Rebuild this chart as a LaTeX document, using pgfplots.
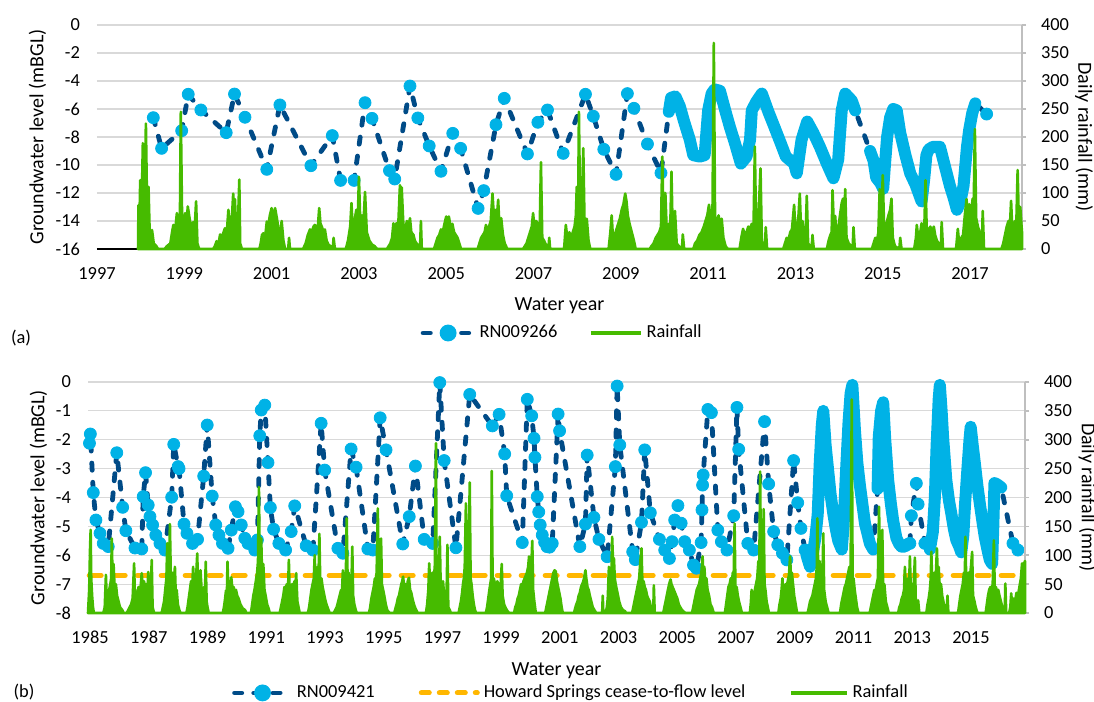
\documentclass[border=0pt]{standalone}
\usepackage{fontspec}
\setmainfont{Carlito}
\usepackage{pgfplots}
\usepackage{pgfplotstable}
\pgfplotsset{compat=1.18}
\definecolor{gwdark}{RGB}{0,75,135}
\definecolor{gwlight}{RGB}{0,178,230}
\definecolor{rain}{RGB}{70,187,0}
\definecolor{ctf}{RGB}{255,183,0}
\definecolor{gridc}{RGB}{217,217,217}
\definecolor{raxis}{RGB}{191,191,191}
\newcommand{\fs}{\fontsize{9.2}{11}\selectfont}

% ---------- Panel (a) groundwater RN009266 ----------
\pgfplotstableread{
x y
1998.29 -6.62
1998.48 -8.81
1998.94 -7.55
1999.09 -4.95
1999.38 -6.07
1999.96 -7.69
2000.15 -4.93
2000.39 -6.59
2000.89 -10.31
2001.19 -5.71
2001.90 -10.05
2002.39 -7.90
2002.58 -11.10
2002.89 -11.10
2003.14 -5.55
2003.30 -6.67
2003.70 -10.40
2003.82 -11.00
2004.17 -4.36
2004.35 -6.64
2004.61 -8.64
2004.88 -10.45
2005.15 -7.74
2005.33 -8.81
2005.73 -13.10
2005.86 -11.83
2006.14 -7.12
2006.33 -5.24
2006.86 -9.21
2007.10 -6.95
2007.32 -6.07
2007.68 -9.17
2008.19 -4.95
2008.37 -6.52
2008.61 -8.88
2008.89 -10.67
2009.15 -4.90
2009.30 -5.95
2009.61 -8.50
2009.92 -10.57
2017.38 -6.36
}\gwAmk

\pgfplotstableread{
x y
2010.10 -6.2
2010.15 -5.2
2010.25 -5.1
2010.35 -5.8
2010.45 -6.9
2010.58 -8.2
2010.66 -9.3
2010.81 -9.4
2010.92 -9.3
2011.00 -6.1
2011.08 -4.9
2011.15 -4.6
2011.27 -4.7
2011.40 -6.2
2011.50 -7.3
2011.62 -8.5
2011.75 -9.9
2011.88 -9.4
2011.96 -8.2
2012.00 -6.1
2012.10 -5.5
2012.23 -4.9
2012.38 -6.2
2012.52 -7.3
2012.67 -8.5
2012.78 -9.4
2012.97 -9.9
2013.03 -10.6
2013.14 -8.2
2013.27 -6.9
2013.41 -7.7
2013.56 -8.7
2013.72 -9.9
2013.87 -10.95
2013.98 -9.6
2014.06 -6.1
2014.14 -4.9
2014.29 -5.4
2014.37 -6.1
}\gwAbandone

\pgfplotstableread{
x y
2014.71 -9.0
2014.79 -9.7
2014.85 -10.9
2014.95 -11.3
2015.01 -11.7
2015.05 -10.0
2015.10 -8.0
2015.17 -6.6
2015.24 -6.0
2015.32 -6.1
2015.40 -7.7
2015.52 -9.3
2015.63 -10.6
2015.75 -11.4
2015.89 -12.6
2015.95 -11.0
2016.00 -9.3
2016.05 -8.9
2016.15 -8.7
2016.31 -8.7
2016.40 -9.8
2016.54 -11.5
2016.62 -12.3
2016.70 -13.2
2016.78 -12.6
2016.85 -11.5
2016.93 -8.7
2016.98 -7.5
2017.05 -6.3
2017.12 -5.6
}\gwAbandtwo

% ---------- Panel (b) groundwater RN009421 ----------
\pgfplotstableread{
x y
1984.98 -2.12
1985.01 -1.80
1985.11 -3.83
1985.20 -4.78
1985.34 -5.24
1985.45 -5.59
1985.62 -5.70
1985.91 -2.45
1986.11 -4.34
1986.22 -5.15
1986.53 -5.75
1986.76 -5.78
1986.81 -3.97
1986.89 -3.14
1986.98 -4.26
1987.04 -4.66
1987.13 -4.95
1987.24 -5.30
1987.38 -5.59
1987.55 -5.82
1987.78 -3.99
1987.85 -2.16
1988.00 -2.93
1988.03 -3.00
1988.20 -4.92
1988.30 -5.24
1988.49 -5.59
1988.66 -5.45
1988.87 -3.26
1988.99 -1.49
1989.16 -3.95
1989.28 -4.95
1989.39 -5.30
1989.51 -5.59
1989.70 -5.76
1989.81 -5.13
1989.95 -4.32
1990.04 -4.49
1990.15 -4.95
1990.27 -5.41
1990.38 -5.59
1990.61 -5.82
1990.70 -5.47
1990.78 -1.86
1990.83 -0.97
1990.95 -0.80
1991.06 -2.79
1991.14 -4.35
1991.25 -5.10
1991.43 -5.59
1991.66 -5.82
1991.85 -5.18
1991.97 -4.29
1992.36 -5.67
1992.59 -5.82
1992.87 -1.43
1992.99 -3.05
1993.44 -5.76
1993.61 -5.93
1993.89 -2.32
1994.06 -2.95
1994.46 -5.78
1994.63 -5.82
1994.88 -1.24
1995.08 -2.35
1995.65 -5.61
1995.87 -4.66
1996.08 -2.91
1996.38 -5.45
1996.67 -5.59
1996.91 -0.02
1997.06 -2.72
1997.46 -5.74
1997.93 -0.43
1998.70 -1.52
1998.93 -1.12
1999.12 -2.49
1999.19 -3.94
1999.72 -5.56
1999.89 -0.60
2000.04 -1.17
2000.12 -1.95
2000.15 -2.61
2000.23 -3.97
2000.28 -4.50
2000.33 -4.95
2000.40 -5.30
2000.48 -5.55
2000.56 -5.70
2000.65 -5.72
2000.74 -5.59
2000.94 -1.11
2000.99 -1.69
2001.68 -5.70
2001.87 -4.92
2001.93 -2.53
2002.16 -4.69
2002.33 -5.45
2002.61 -6.05
2002.89 -2.93
2002.95 -0.14
2003.04 -2.18
2003.48 -5.88
2003.57 -6.15
2003.78 -4.86
2003.89 -2.35
2004.08 -4.53
2004.39 -5.45
2004.57 -5.82
2004.73 -6.11
2004.82 -5.53
2004.91 -4.78
2005.02 -4.28
2005.13 -4.89
2005.25 -5.53
2005.41 -5.82
2005.55 -6.34
2005.65 -6.45
2005.81 -5.56
2005.84 -4.43
2005.86 -3.57
2005.88 -3.22
2006.04 -0.95
2006.16 -1.06
2006.38 -5.13
2006.50 -5.53
2006.69 -5.82
2006.92 -4.63
2007.03 -0.88
2007.09 -2.33
2007.40 -5.59
2007.60 -5.82
2007.97 -1.37
2008.11 -3.53
2008.28 -5.18
2008.42 -5.64
2008.58 -5.93
2008.73 -6.16
2008.96 -2.72
2009.10 -4.18
2009.21 -5.07
2009.35 -5.82
}\gwBsparse

\pgfplotstableread{
x y
2009.40 -6.0
2009.52 -6.4
2009.62 -5.9
2009.70 -5.4
2009.78 -4.6
2009.85 -2.8
2009.92 -1.5
2009.97 -1.0
2010.05 -2.2
2010.14 -3.1
2010.22 -3.9
2010.31 -4.55
2010.40 -5.1
2010.48 -5.5
2010.60 -5.8
2010.66 -5.0
2010.74 -3.2
2010.83 -1.4
2010.90 -0.4
2010.96 -0.1
2011.05 -1.7
2011.13 -2.8
2011.22 -3.6
2011.39 -4.9
2011.56 -5.6
2011.67 -5.8
}\gwBbandone

\pgfplotstableread{
x y
2011.82 -3.7
2011.86 -1.9
2011.94 -1.0
2012.01 -0.7
2012.08 -2.0
2012.18 -3.4
2012.27 -4.2
2012.35 -4.8
2012.46 -5.4
2012.55 -5.6
2012.63 -5.7
2012.75 -5.7
2012.86 -5.6
}\gwBbandtwo

\pgfplotstableread{
x y
2012.92 -5.59
2012.97 -4.63
2013.14 -3.51
2013.20 -4.23
2013.43 -5.59
}\gwBmid

\pgfplotstableread{
x y
2013.60 -5.8
2013.70 -5.2
2013.77 -4.0
2013.83 -2.2
2013.90 -0.6
2013.94 -0.1
2014.00 -1.0
2014.05 -1.9
2014.16 -3.4
2014.25 -4.1
2014.33 -4.55
2014.42 -5.1
2014.50 -5.47
2014.60 -5.7
2014.67 -5.9
2014.74 -5.3
2014.80 -4.2
2014.88 -3.0
2014.95 -2.0
2014.99 -1.55
2015.06 -2.2
2015.13 -2.8
2015.22 -3.6
2015.30 -4.2
2015.40 -4.9
2015.47 -5.36
2015.56 -5.8
2015.64 -6.16
2015.72 -6.3
2015.76 -5.0
2015.80 -3.5
2015.90 -3.55
2016.03 -3.65
}\gwBbandthree

\pgfplotstableread{
x y
2016.43 -5.59
2016.60 -5.82
}\gwBend

\pgfplotsset{
  gwline/.style={gwdark, line width=2.4pt, dash pattern=on 3.6pt off 6pt, line cap=round, line join=round, mark=none},
  gwmark/.style={only marks, mark=*, mark size=3pt, mark options={fill=gwlight, draw=gwlight, solid}},
  gwband/.style={gwlight, line width=6pt, line cap=round, line join=round, mark=none, solid},
  rainplot/.style={draw=rain, fill=rain, line width=1.3pt, line join=round, mark=none},
  basestyle/.style={
    scale only axis, clip=false,
    /pgf/number format/assume math mode=true,
    /pgf/number format/1000 sep={},
    tick label style={font=\fs},
    label style={font=\fs},
    legend style={font=\fs, draw=none, fill=none},
    axis line style={-},
  },
  gwstyle/.style={
    basestyle,
    axis x line*=bottom, axis y line*=left,
    x axis line style={black, line width=0.75pt},
    y axis line style={draw=none},
    major tick length=0pt,
    ymajorgrids, grid style={gridc, line width=0.6pt},
    yticklabel style={xshift=-5pt},
    xticklabel style={yshift=-5.5pt},
  },
  rainstyle/.style={
    basestyle,
    axis x line=none, axis y line*=right,
    y axis line style={raxis, line width=0.75pt},
    ytick style={raxis, line width=0.75pt},
    tick align=outside, major tick length=2pt,
    ymin=0, ymax=400, ytick={0,50,...,400},
    yticklabel style={xshift=4pt},
    ylabel={Daily rainfall (mm)},
  },
}

\begin{document}
\begin{tikzpicture}
\path[use as bounding box] (0,0) rectangle (547pt,351pt);

% ===================== Panel (a) =====================
\begin{axis}[gwstyle,
  at={(48.5pt,226.5pt)}, anchor=south west, width=462.5pt, height=112pt,
  xmin=1997, xmax=2018.19, ymin=-16, ymax=0,
  xtick={1997,1999,...,2017}, ytick={-16,-14,...,0},
  xlabel={Water year}, ylabel={Groundwater level (mBGL)},
  every axis x label/.style={at={(axis description cs:0.5,-0.255)}, anchor=center},
  every axis y label/.style={at={(axis description cs:-0.0643,0.5)}, rotate=90, anchor=center},
]
\addplot[gwline] table {
1998.29 -6.62
1998.48 -8.81
1998.94 -7.55
1999.09 -4.95
1999.38 -6.07
1999.96 -7.69
2000.15 -4.93
2000.39 -6.59
2000.89 -10.31
2001.19 -5.71
2001.90 -10.05
2002.39 -7.90
2002.58 -11.10
2002.89 -11.10
2003.14 -5.55
2003.30 -6.67
2003.70 -10.40
2003.82 -11.00
2004.17 -4.36
2004.35 -6.64
2004.61 -8.64
2004.88 -10.45
2005.15 -7.74
2005.33 -8.81
2005.73 -13.10
2005.86 -11.83
2006.14 -7.12
2006.33 -5.24
2006.86 -9.21
2007.10 -6.95
2007.32 -6.07
2007.68 -9.17
2008.19 -4.95
2008.37 -6.52
2008.61 -8.88
2008.89 -10.67
2009.15 -4.90
2009.30 -5.95
2009.61 -8.50
2009.92 -10.57
2010.10 -6.2
2010.15 -5.2
2010.25 -5.1
2010.35 -5.8
2010.45 -6.9
2010.58 -8.2
2010.66 -9.3
2010.81 -9.4
2010.92 -9.3
2011.00 -6.1
2011.08 -4.9
2011.15 -4.6
2011.27 -4.7
2011.40 -6.2
2011.50 -7.3
2011.62 -8.5
2011.75 -9.9
2011.88 -9.4
2011.96 -8.2
2012.00 -6.1
2012.10 -5.5
2012.23 -4.9
2012.38 -6.2
2012.52 -7.3
2012.67 -8.5
2012.78 -9.4
2012.97 -9.9
2013.03 -10.6
2013.14 -8.2
2013.27 -6.9
2013.41 -7.7
2013.56 -8.7
2013.72 -9.9
2013.87 -10.95
2013.98 -9.6
2014.06 -6.1
2014.14 -4.9
2014.29 -5.4
2014.37 -6.1
2014.71 -9.0
2014.79 -9.7
2014.85 -10.9
2014.95 -11.3
2015.01 -11.7
2015.05 -10.0
2015.10 -8.0
2015.17 -6.6
2015.24 -6.0
2015.32 -6.1
2015.40 -7.7
2015.52 -9.3
2015.63 -10.6
2015.75 -11.4
2015.89 -12.6
2015.95 -11.0
2016.00 -9.3
2016.05 -8.9
2016.15 -8.7
2016.31 -8.7
2016.40 -9.8
2016.54 -11.5
2016.62 -12.3
2016.70 -13.2
2016.78 -12.6
2016.85 -11.5
2016.93 -8.7
2016.98 -7.5
2017.05 -6.3
2017.12 -5.6
2017.38 -6.36
};
\addplot[gwband] table {\gwAbandone};
\addplot[gwband] table {\gwAbandtwo};
\addplot[gwmark] table {\gwAmk};
\end{axis}

\begin{axis}[rainstyle,
  at={(48.5pt,226.5pt)}, anchor=south west, width=462.5pt, height=112pt,
  xmin=1997, xmax=2018.19,
  every axis y label/.style={at={(axis description cs:1.067,0.5)}, rotate=-90, anchor=center},
  legend columns=2,
  legend style={at={(0.504,-0.375)}, anchor=center, /tikz/every even column/.append style={column sep=14pt}},
  legend image code/.code={\draw[mark repeat=2,mark phase=2,#1] plot coordinates {(0pt,0pt) (12.5pt,0pt) (25pt,0pt)};},
]
\addlegendimage{gwdark, line width=2.4pt, dash pattern=on 3.6pt off 6pt, line cap=round, mark=*, mark size=3pt, mark options={fill=gwlight, draw=gwlight, solid}}
\addlegendentry{RN009266}
\addlegendimage{rain, line width=1.6pt, mark=none}
\addlegendentry{Rainfall}
\addplot[rainplot, forget plot] coordinates {
(1997.94,0)(1997.95,78)(1997.97,40)(1997.99,123)(1998.02,60)(1998.05,189)(1998.08,30)(1998.12,224)(1998.15,60)(1998.18,111)(1998.21,20)(1998.26,34)(1998.30,10)(1998.36,5)(1998.40,0)
(1998.55,0)(1998.60,5)(1998.68,10)(1998.72,30)(1998.75,43)(1998.78,25)(1998.83,64)(1998.86,40)(1998.90,60)(1998.92,245)(1998.95,50)(1998.99,40)(1999.02,64)(1999.05,45)(1999.08,76)(1999.12,55)(1999.16,35)(1999.20,48)(1999.23,25)(1999.27,85)(1999.30,10)(1999.34,0)
(1999.66,0)(1999.70,5)(1999.74,14)(1999.78,8)(1999.82,26)(1999.86,20)(1999.90,30)(1999.93,37)(1999.97,25)(2000.01,70)(2000.04,45)(2000.08,40)(2000.12,99)(2000.14,60)(2000.16,89)(2000.19,30)(2000.22,20)(2000.26,124)(2000.28,10)(2000.32,0)
(2000.72,0)(2000.75,10)(2000.78,25)(2000.81,28)(2000.85,20)(2000.89,49)(2000.92,40)(2000.96,60)(2001.00,73)(2001.03,50)(2001.06,65)(2001.08,73)(2001.12,55)(2001.16,35)(2001.20,25)(2001.23,50)(2001.27,15)(2001.31,0)(2001.38,0)(2001.40,20)(2001.42,0)
(2001.72,0)(2001.78,10)(2001.83,25)(2001.88,35)(2001.92,30)(2001.96,40)(2001.99,43)(2002.03,35)(2002.06,40)(2002.09,73)(2002.12,45)(2002.15,40)(2002.19,30)(2002.22,35)(2002.26,15)(2002.30,8)(2002.35,5)(2002.40,0)(2002.42,20)(2002.45,0)
(2002.70,0)(2002.75,15)(2002.80,40)(2002.83,82)(2002.86,30)(2002.90,50)(2002.94,70)(2002.97,40)(2003.00,129)(2003.03,50)(2003.07,60)(2003.10,40)(2003.14,102)(2003.18,30)(2003.24,15)(2003.30,8)(2003.36,5)(2003.42,0)
(2003.64,0)(2003.68,5)(2003.72,10)(2003.76,20)(2003.79,46)(2003.82,30)(2003.86,46)(2003.90,40)(2003.94,114)(2003.96,60)(2003.98,110)(2004.02,40)(2004.06,35)(2004.10,50)(2004.14,40)(2004.17,55)(2004.20,30)(2004.25,25)(2004.28,15)(2004.32,10)(2004.38,5)(2004.40,0)(2004.42,50)(2004.44,0)
(2004.72,0)(2004.76,10)(2004.80,20)(2004.84,25)(2004.88,35)(2004.92,30)(2004.96,45)(2005.00,58)(2005.03,50)(2005.06,58)(2005.10,40)(2005.14,45)(2005.18,30)(2005.22,25)(2005.26,20)(2005.30,10)(2005.34,0)
(2005.72,0)(2005.76,10)(2005.80,20)(2005.84,25)(2005.88,30)(2005.91,43)(2005.94,30)(2005.98,40)(2006.02,50)(2006.06,99)(2006.09,60)(2006.12,70)(2006.16,55)(2006.19,88)(2006.22,40)(2006.26,55)(2006.30,25)(2006.34,10)(2006.40,0)
(2006.76,0)(2006.80,5)(2006.84,10)(2006.88,20)(2006.92,30)(2006.96,40)(2006.99,64)(2007.02,40)(2007.06,50)(2007.10,45)(2007.14,30)(2007.17,155)(2007.20,20)(2007.24,15)(2007.30,5)(2007.34,0)(2007.36,20)(2007.38,0)
(2007.70,0)(2007.74,43)(2007.78,15)(2007.82,30)(2007.86,20)(2007.90,30)(2007.94,40)(2007.97,60)(2007.99,111)(2008.02,60)(2008.04,245)(2008.07,50)(2008.10,60)(2008.14,180)(2008.17,40)(2008.22,54)(2008.26,15)(2008.30,0)
(2008.72,0)(2008.76,30)(2008.79,60)(2008.82,20)(2008.86,25)(2008.90,35)(2008.94,45)(2008.98,55)(2009.02,70)(2009.06,80)(2009.10,99)(2009.13,85)(2009.16,60)(2009.20,45)(2009.25,30)(2009.30,15)(2009.34,0)
(2009.66,0)(2009.70,5)(2009.75,10)(2009.80,20)(2009.84,25)(2009.88,30)(2009.92,40)(2009.95,165)(2009.98,40)(2010.02,100)(2010.05,35)(2010.09,45)(2010.13,30)(2010.16,138)(2010.19,20)(2010.24,68)(2010.28,10)(2010.33,5)(2010.40,0)(2010.42,26)(2010.45,0)
(2010.66,0)(2010.70,10)(2010.75,15)(2010.80,25)(2010.85,30)(2010.90,40)(2010.94,50)(2010.98,60)(2011.02,79)(2011.06,50)(2011.10,70)(2011.13,368)(2011.16,40)(2011.20,50)(2011.24,60)(2011.28,40)(2011.31,54)(2011.35,20)(2011.40,5)(2011.45,0)
(2011.72,0)(2011.76,20)(2011.80,36)(2011.84,25)(2011.88,30)(2011.92,40)(2011.96,35)(2012.00,45)(2012.04,40)(2012.07,183)(2012.10,30)(2012.14,35)(2012.17,90)(2012.20,144)(2012.23,15)(2012.27,5)(2012.30,0)(2012.32,39)(2012.35,0)
(2012.72,0)(2012.76,10)(2012.80,20)(2012.84,15)(2012.88,30)(2012.92,35)(2012.97,79)(2013.00,30)(2013.04,40)(2013.07,60)(2013.10,99)(2013.13,30)(2013.16,50)(2013.20,20)(2013.23,15)(2013.26,95)(2013.29,10)(2013.34,5)(2013.37,0)(2013.39,25)(2013.42,0)
(2013.72,0)(2013.76,15)(2013.80,25)(2013.83,30)(2013.85,105)(2013.88,40)(2013.91,59)(2013.94,25)(2013.98,35)(2014.02,60)(2014.06,82)(2014.09,90)(2014.12,50)(2014.14,107)(2014.17,20)(2014.22,10)(2014.28,5)(2014.31,0)(2014.33,39)(2014.36,0)
(2014.75,0)(2014.79,10)(2014.83,20)(2014.87,15)(2014.90,30)(2014.93,107)(2014.96,30)(2015.00,132)(2015.03,40)(2015.06,35)(2015.10,50)(2015.13,60)(2015.17,70)(2015.20,90)(2015.23,20)(2015.28,5)(2015.34,2)(2015.38,0)(2015.40,20)(2015.43,0)
(2015.72,0)(2015.76,20)(2015.78,43)(2015.82,15)(2015.86,30)(2015.89,46)(2015.92,20)(2015.95,30)(2015.98,123)(2016.01,25)(2016.05,35)(2016.09,40)(2016.13,30)(2016.17,40)(2016.20,25)(2016.24,15)(2016.28,10)(2016.32,5)(2016.33,0)(2016.35,48)(2016.38,0)
(2016.68,0)(2016.72,36)(2016.75,10)(2016.80,20)(2016.84,25)(2016.88,60)(2016.92,89)(2016.95,50)(2016.98,80)(2017.02,60)(2017.06,90)(2017.08,60)(2017.11,214)(2017.14,55)(2017.18,40)(2017.22,30)(2017.25,10)(2017.27,0)(2017.29,68)(2017.32,0)
(2017.72,0)(2017.76,10)(2017.80,25)(2017.84,40)(2017.88,50)(2017.91,35)(2017.94,86)(2017.97,30)(2018.00,40)(2018.03,50)(2018.06,45)(2018.09,141)(2018.12,40)(2018.15,75)(2018.18,40)(2018.19,30)
} \closedcycle;
\end{axis}

% ===================== Panel (b) =====================
\begin{axis}[gwstyle,
  at={(44pt,44.5pt)}, anchor=south west, width=468.5pt, height=115.5pt,
  xmin=1984.93, xmax=2016.84, ymin=-8, ymax=0,
  xtick={1985,1987,...,2015}, ytick={-8,-7,...,0},
  xlabel={Water year}, ylabel={Groundwater level (mBGL)},
  every axis x label/.style={at={(axis description cs:0.5,-0.25)}, anchor=center},
  every axis y label/.style={at={(axis description cs:-0.0528,0.5)}, rotate=90, anchor=center},
]
\addplot[ctf, line width=2.5pt, dash pattern=on 6pt off 6pt, line cap=round] coordinates {(1984.97,-6.7) (2016.84,-6.7)};
\addplot[gwline] table {
1984.98 -2.12
1985.01 -1.80
1985.11 -3.83
1985.20 -4.78
1985.34 -5.24
1985.45 -5.59
1985.62 -5.70
1985.91 -2.45
1986.11 -4.34
1986.22 -5.15
1986.53 -5.75
1986.76 -5.78
1986.81 -3.97
1986.89 -3.14
1986.98 -4.26
1987.04 -4.66
1987.13 -4.95
1987.24 -5.30
1987.38 -5.59
1987.55 -5.82
1987.78 -3.99
1987.85 -2.16
1988.00 -2.93
1988.03 -3.00
1988.20 -4.92
1988.30 -5.24
1988.49 -5.59
1988.66 -5.45
1988.87 -3.26
1988.99 -1.49
1989.16 -3.95
1989.28 -4.95
1989.39 -5.30
1989.51 -5.59
1989.70 -5.76
1989.81 -5.13
1989.95 -4.32
1990.04 -4.49
1990.15 -4.95
1990.27 -5.41
1990.38 -5.59
1990.61 -5.82
1990.70 -5.47
1990.78 -1.86
1990.83 -0.97
1990.95 -0.80
1991.06 -2.79
1991.14 -4.35
1991.25 -5.10
1991.43 -5.59
1991.66 -5.82
1991.85 -5.18
1991.97 -4.29
1992.36 -5.67
1992.59 -5.82
1992.87 -1.43
1992.99 -3.05
1993.44 -5.76
1993.61 -5.93
1993.89 -2.32
1994.06 -2.95
1994.46 -5.78
1994.63 -5.82
1994.88 -1.24
1995.08 -2.35
1995.65 -5.61
1995.87 -4.66
1996.08 -2.91
1996.38 -5.45
1996.67 -5.59
1996.91 -0.02
1997.06 -2.72
1997.46 -5.74
1997.93 -0.43
1998.70 -1.52
1998.93 -1.12
1999.12 -2.49
1999.19 -3.94
1999.72 -5.56
1999.89 -0.60
2000.04 -1.17
2000.12 -1.95
2000.15 -2.61
2000.23 -3.97
2000.28 -4.50
2000.33 -4.95
2000.40 -5.30
2000.48 -5.55
2000.56 -5.70
2000.65 -5.72
2000.74 -5.59
2000.94 -1.11
2000.99 -1.69
2001.68 -5.70
2001.87 -4.92
2001.93 -2.53
2002.16 -4.69
2002.33 -5.45
2002.61 -6.05
2002.89 -2.93
2002.95 -0.14
2003.04 -2.18
2003.48 -5.88
2003.57 -6.15
2003.78 -4.86
2003.89 -2.35
2004.08 -4.53
2004.39 -5.45
2004.57 -5.82
2004.73 -6.11
2004.82 -5.53
2004.91 -4.78
2005.02 -4.28
2005.13 -4.89
2005.25 -5.53
2005.41 -5.82
2005.55 -6.34
2005.65 -6.45
2005.81 -5.56
2005.84 -4.43
2005.86 -3.57
2005.88 -3.22
2006.04 -0.95
2006.16 -1.06
2006.38 -5.13
2006.50 -5.53
2006.69 -5.82
2006.92 -4.63
2007.03 -0.88
2007.09 -2.33
2007.40 -5.59
2007.60 -5.82
2007.97 -1.37
2008.11 -3.53
2008.28 -5.18
2008.42 -5.64
2008.58 -5.93
2008.73 -6.16
2008.96 -2.72
2009.10 -4.18
2009.21 -5.07
2009.35 -5.82
2009.40 -6.0
2009.52 -6.4
2009.62 -5.9
2009.70 -5.4
2009.78 -4.6
2009.85 -2.8
2009.92 -1.5
2009.97 -1.0
2010.05 -2.2
2010.14 -3.1
2010.22 -3.9
2010.31 -4.55
2010.40 -5.1
2010.48 -5.5
2010.60 -5.8
2010.66 -5.0
2010.74 -3.2
2010.83 -1.4
2010.90 -0.4
2010.96 -0.1
2011.05 -1.7
2011.13 -2.8
2011.22 -3.6
2011.39 -4.9
2011.56 -5.6
2011.67 -5.8
2011.82 -3.7
2011.86 -1.9
2011.94 -1.0
2012.01 -0.7
2012.08 -2.0
2012.18 -3.4
2012.27 -4.2
2012.35 -4.8
2012.46 -5.4
2012.55 -5.6
2012.63 -5.7
2012.75 -5.7
2012.86 -5.6
2012.92 -5.59
2012.97 -4.63
2013.14 -3.51
2013.20 -4.23
2013.43 -5.59
2013.60 -5.8
2013.70 -5.2
2013.77 -4.0
2013.83 -2.2
2013.90 -0.6
2013.94 -0.1
2014.00 -1.0
2014.05 -1.9
2014.16 -3.4
2014.25 -4.1
2014.33 -4.55
2014.42 -5.1
2014.50 -5.47
2014.60 -5.7
2014.67 -5.9
2014.74 -5.3
2014.80 -4.2
2014.88 -3.0
2014.95 -2.0
2014.99 -1.55
2015.06 -2.2
2015.13 -2.8
2015.22 -3.6
2015.30 -4.2
2015.40 -4.9
2015.47 -5.36
2015.56 -5.8
2015.64 -6.16
2015.72 -6.3
2015.76 -5.0
2015.80 -3.5
2015.90 -3.55
2016.03 -3.65
2016.43 -5.59
2016.60 -5.82
};
\addplot[gwband] table {\gwBbandone};
\addplot[gwband] table {\gwBbandtwo};
\addplot[gwband] table {\gwBbandthree};
\addplot[gwmark] table {\gwBsparse};
\addplot[gwmark] table {\gwBmid};
\addplot[gwmark] table {\gwBend};
\end{axis}

\begin{axis}[rainstyle,
  at={(44pt,44.5pt)}, anchor=south west, width=468.5pt, height=115.5pt,
  xmin=1984.93, xmax=2016.84,
  every axis y label/.style={at={(axis description cs:1.0667,0.5)}, rotate=-90, anchor=center},
  legend columns=3,
  legend style={at={(0.5165,-0.346)}, anchor=center, /tikz/every even column/.append style={column sep=20pt}},
  legend image code/.code={\draw[mark repeat=2,mark phase=2,#1] plot coordinates {(0pt,0pt) (14pt,0pt) (28pt,0pt)};},
]
\addlegendimage{gwdark, line width=2.4pt, dash pattern=on 3.6pt off 6pt, line cap=round, mark=*, mark size=3pt, mark options={fill=gwlight, draw=gwlight, solid}}
\addlegendentry{RN009421}
\addlegendimage{ctf, line width=2.5pt, dash pattern=on 4pt off 5pt, line cap=round, mark=none}
\addlegendentry{Howard Springs cease-to-flow level}
\addlegendimage{rain, line width=1.6pt, mark=none}
\addlegendentry{Rainfall}
\addplot[rainplot, forget plot] coordinates {
(1984.93,0)(1984.97,40)(1985.00,112)(1985.02,144)(1985.04,60)(1985.07,30)(1985.10,10)(1985.13,0)
(1985.45,0)(1985.50,10)(1985.54,66)(1985.57,20)(1985.61,30)(1985.65,40)(1985.69,50)(1985.72,60)(1985.74,129)(1985.77,50)(1985.80,85)(1985.84,40)(1985.88,50)(1985.92,30)(1985.97,20)(1986.02,10)(1986.10,5)(1986.14,0)
(1986.25,0)(1986.30,5)(1986.35,10)(1986.40,15)(1986.45,25)(1986.50,86)(1986.53,20)(1986.57,30)(1986.61,35)(1986.65,45)(1986.69,30)(1986.73,50)(1986.76,69)(1986.80,40)(1986.84,55)(1986.88,35)(1986.92,50)(1986.96,40)(1986.98,71)(1987.02,30)(1987.06,20)(1987.10,92)(1987.13,10)(1987.18,0)
(1987.44,0)(1987.48,10)(1987.52,20)(1987.56,40)(1987.60,60)(1987.63,121)(1987.66,50)(1987.69,80)(1987.72,154)(1987.75,60)(1987.79,70)(1987.83,50)(1987.86,60)(1987.89,80)(1987.92,30)(1987.95,40)(1987.99,15)(1988.04,5)(1988.08,0)
(1988.28,0)(1988.32,10)(1988.36,25)(1988.40,40)(1988.44,55)(1988.48,45)(1988.51,80)(1988.54,50)(1988.58,60)(1988.62,70)(1988.65,103)(1988.68,40)(1988.72,55)(1988.76,74)(1988.80,40)(1988.84,35)(1988.88,45)(1988.91,30)(1988.94,89)(1988.97,20)(1989.00,10)(1989.04,0)
(1989.52,0)(1989.56,10)(1989.60,25)(1989.63,39)(1989.66,30)(1989.68,89)(1989.71,40)(1989.75,50)(1989.78,45)(1989.81,62)(1989.85,40)(1989.89,45)(1989.93,35)(1989.97,40)(1990.01,30)(1990.06,25)(1990.12,15)(1990.20,8)(1990.28,5)(1990.32,0)
(1990.48,0)(1990.52,15)(1990.56,30)(1990.60,40)(1990.63,50)(1990.66,60)(1990.69,70)(1990.72,90)(1990.75,218)(1990.78,80)(1990.81,100)(1990.83,129)(1990.86,60)(1990.90,85)(1990.94,40)(1990.98,30)(1991.03,15)(1991.08,8)(1991.12,0)
(1991.46,0)(1991.50,10)(1991.54,20)(1991.58,30)(1991.62,45)(1991.66,40)(1991.70,50)(1991.74,35)(1991.77,92)(1991.80,30)(1991.84,45)(1991.88,50)(1991.92,40)(1991.96,55)(1991.99,45)(1992.02,69)(1992.06,20)(1992.10,10)(1992.14,0)
(1992.42,0)(1992.46,10)(1992.50,25)(1992.54,40)(1992.58,50)(1992.62,60)(1992.65,100)(1992.68,50)(1992.72,70)(1992.75,80)(1992.78,60)(1992.81,137)(1992.84,50)(1992.88,60)(1992.92,45)(1992.96,35)(1993.00,25)(1993.05,15)(1993.10,8)(1993.16,0)
(1993.30,0)(1993.35,5)(1993.40,10)(1993.45,20)(1993.50,30)(1993.55,40)(1993.58,35)(1993.61,74)(1993.64,40)(1993.68,50)(1993.71,60)(1993.74,164)(1993.77,60)(1993.80,70)(1993.84,55)(1993.88,60)(1993.90,45)(1993.93,115)(1993.96,30)(1994.00,15)(1994.05,5)(1994.08,0)
(1994.50,0)(1994.54,10)(1994.58,25)(1994.62,35)(1994.66,45)(1994.70,60)(1994.73,55)(1994.76,70)(1994.80,181)(1994.83,60)(1994.86,80)(1994.88,70)(1994.91,129)(1994.94,50)(1994.98,40)(1995.02,30)(1995.07,15)(1995.12,5)(1995.20,0)
(1995.36,0)(1995.40,8)(1995.44,15)(1995.48,25)(1995.52,30)(1995.56,40)(1995.60,50)(1995.63,55)(1995.66,63)(1995.70,45)(1995.74,50)(1995.78,40)(1995.82,55)(1995.86,61)(1995.90,40)(1995.94,35)(1995.98,25)(1996.03,15)(1996.08,8)(1996.16,0)
(1996.44,0)(1996.48,15)(1996.52,40)(1996.55,86)(1996.58,50)(1996.62,60)(1996.66,70)(1996.70,55)(1996.74,80)(1996.78,294)(1996.80,60)(1996.84,75)(1996.88,60)(1996.91,132)(1996.94,50)(1996.98,40)(1997.02,55)(1997.06,30)(1997.10,20)(1997.14,25)(1997.17,118)(1997.20,10)(1997.25,5)(1997.29,0)
(1997.55,0)(1997.59,10)(1997.63,20)(1997.67,35)(1997.70,50)(1997.73,60)(1997.76,80)(1997.80,190)(1997.83,100)(1997.86,120)(1997.89,80)(1997.93,226)(1997.96,60)(1997.99,50)(1998.03,30)(1998.07,15)(1998.11,5)(1998.15,0)
(1998.48,0)(1998.52,10)(1998.56,25)(1998.60,40)(1998.63,50)(1998.66,60)(1998.68,246)(1998.71,55)(1998.75,60)(1998.79,50)(1998.83,45)(1998.87,55)(1998.90,50)(1998.94,40)(1998.98,45)(1999.02,85)(1999.05,30)(1999.10,15)(1999.16,8)(1999.22,3)(1999.27,0)
(1999.44,0)(1999.48,10)(1999.52,15)(1999.56,25)(1999.60,30)(1999.64,40)(1999.68,50)(1999.72,45)(1999.76,55)(1999.80,60)(1999.84,65)(1999.88,70)(1999.92,80)(1999.95,98)(1999.98,60)(2000.02,70)(2000.06,125)(2000.09,40)(2000.13,20)(2000.18,0)
(2000.50,0)(2000.54,10)(2000.58,20)(2000.62,30)(2000.66,40)(2000.70,50)(2000.74,60)(2000.78,70)(2000.82,74)(2000.86,72)(2000.90,55)(2000.94,45)(2000.98,35)(2001.02,25)(2001.06,10)(2001.10,0)
(2001.48,0)(2001.52,8)(2001.56,15)(2001.60,20)(2001.64,30)(2001.68,35)(2001.72,45)(2001.76,50)(2001.80,55)(2001.84,65)(2001.87,74)(2001.90,60)(2001.94,45)(2001.98,40)(2002.02,30)(2002.07,20)(2002.12,10)(2002.20,3)(2002.24,0)(2002.44,0)(2002.46,30)(2002.48,0)
(2002.56,0)(2002.60,10)(2002.63,25)(2002.67,80)(2002.70,40)(2002.73,60)(2002.76,80)(2002.78,132)(2002.81,90)(2002.84,95)(2002.87,60)(2002.90,50)(2002.94,40)(2002.98,30)(2003.02,20)(2003.08,10)(2003.15,5)(2003.22,3)(2003.25,0)
(2003.46,0)(2003.50,10)(2003.54,20)(2003.58,30)(2003.62,40)(2003.66,50)(2003.70,60)(2003.74,90)(2003.76,100)(2003.78,112)(2003.81,50)(2003.85,55)(2003.89,45)(2003.93,40)(2003.97,30)(2004.01,25)(2004.06,20)(2004.10,10)(2004.15,5)(2004.18,0)(2004.20,48)(2004.23,0)
(2004.52,0)(2004.56,10)(2004.60,20)(2004.64,30)(2004.68,40)(2004.72,50)(2004.75,55)(2004.77,58)(2004.80,50)(2004.84,45)(2004.88,40)(2004.92,35)(2004.96,30)(2005.00,25)(2005.05,15)(2005.10,10)(2005.16,5)(2005.22,2)(2005.28,0)
(2005.50,0)(2005.54,10)(2005.58,20)(2005.62,30)(2005.66,40)(2005.70,45)(2005.74,50)(2005.78,60)(2005.82,70)(2005.86,98)(2005.89,60)(2005.92,80)(2005.95,55)(2005.99,60)(2006.03,40)(2006.08,30)(2006.13,15)(2006.18,10)(2006.24,0)
(2006.62,0)(2006.66,15)(2006.70,30)(2006.74,45)(2006.78,50)(2006.82,60)(2006.86,55)(2006.89,70)(2006.92,65)(2006.95,155)(2006.98,40)(2007.02,45)(2007.06,30)(2007.10,20)(2007.15,10)(2007.20,0)
(2007.47,0)(2007.50,15)(2007.53,40)(2007.56,20)(2007.60,30)(2007.64,40)(2007.68,50)(2007.72,60)(2007.76,90)(2007.79,70)(2007.82,245)(2007.85,60)(2007.88,80)(2007.91,60)(2007.94,180)(2007.97,50)(2008.00,40)(2008.04,20)(2008.08,10)(2008.12,0)
(2008.44,0)(2008.48,15)(2008.52,25)(2008.55,40)(2008.58,60)(2008.61,30)(2008.65,40)(2008.69,50)(2008.72,45)(2008.76,55)(2008.80,65)(2008.84,98)(2008.87,60)(2008.90,70)(2008.94,50)(2008.98,30)(2009.03,15)(2009.08,0)
(2009.44,0)(2009.48,10)(2009.52,20)(2009.56,25)(2009.60,30)(2009.64,40)(2009.68,50)(2009.72,60)(2009.75,80)(2009.77,164)(2009.80,60)(2009.84,90)(2009.88,70)(2009.92,60)(2009.95,80)(2009.97,138)(2010.00,40)(2010.05,20)(2010.10,10)(2010.15,0)
(2010.54,0)(2010.58,15)(2010.62,25)(2010.66,35)(2010.70,45)(2010.74,50)(2010.78,60)(2010.82,70)(2010.86,80)(2010.90,65)(2010.94,370)(2010.97,50)(2011.00,60)(2011.04,40)(2011.08,25)(2011.12,10)(2011.17,0)
(2011.55,0)(2011.59,10)(2011.63,20)(2011.67,30)(2011.71,40)(2011.75,35)(2011.79,50)(2011.83,60)(2011.87,184)(2011.90,60)(2011.94,80)(2011.98,144)(2012.01,40)(2012.05,50)(2012.10,20)(2012.15,10)(2012.20,0)
(2012.52,0)(2012.56,10)(2012.60,15)(2012.64,25)(2012.68,30)(2012.72,40)(2012.75,80)(2012.78,40)(2012.82,50)(2012.86,60)(2012.89,45)(2012.92,98)(2012.95,40)(2012.99,50)(2013.03,30)(2013.06,60)(2013.09,96)(2013.12,20)(2013.16,10)(2013.18,0)(2013.20,22)(2013.24,0)
(2013.48,0)(2013.52,15)(2013.56,25)(2013.60,40)(2013.63,60)(2013.65,106)(2013.68,50)(2013.72,60)(2013.76,70)(2013.80,60)(2013.84,112)(2013.87,60)(2013.90,80)(2013.94,40)(2013.98,50)(2014.02,30)(2014.08,15)(2014.14,10)(2014.17,0)(2014.20,30)(2014.23,0)
(2014.56,0)(2014.60,15)(2014.64,30)(2014.68,40)(2014.72,50)(2014.76,70)(2014.79,60)(2014.81,132)(2014.84,50)(2014.88,60)(2014.92,70)(2014.96,60)(2015.00,80)(2015.04,106)(2015.07,30)(2015.12,20)(2015.16,10)(2015.22,0)
(2015.50,0)(2015.54,15)(2015.58,30)(2015.62,40)(2015.66,45)(2015.70,40)(2015.74,50)(2015.78,126)(2015.81,40)(2015.85,45)(2015.89,35)(2015.93,40)(2015.97,30)(2016.02,20)(2016.07,10)(2016.12,5)(2016.15,0)(2016.17,51)(2016.20,0)
(2016.30,0)(2016.34,10)(2016.37,34)(2016.40,15)(2016.45,25)(2016.50,20)(2016.55,35)(2016.60,30)(2016.65,45)(2016.70,60)(2016.74,86)(2016.77,80)(2016.84,90)
} \closedcycle;
\end{axis}

\node[font=\fs] at (10.5pt,182pt) {(a)};
\node[font=\fs] at (12pt,5pt) {(b)};
\end{tikzpicture}
\end{document}
